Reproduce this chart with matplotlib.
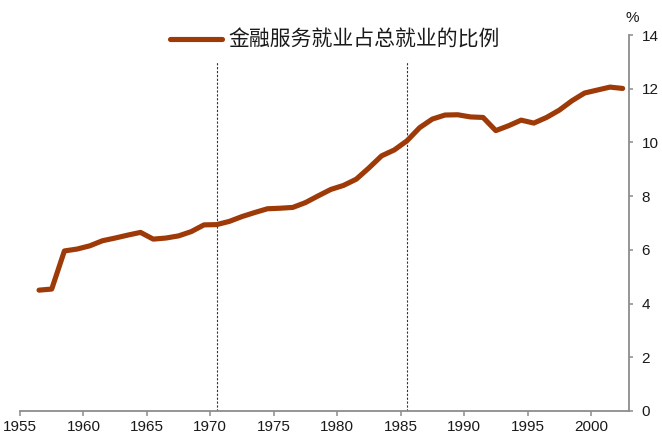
import matplotlib
matplotlib.use("Agg")
import matplotlib.pyplot as plt
import numpy as np

plt.rcParams['font.family'] = ['Liberation Sans', 'Noto Sans CJK SC', 'DejaVu Sans']

# data: share of finance employment in total employment (%)
years = list(range(1956, 2003))
share = [4.50, 4.54, 5.96, 6.03, 6.15, 6.34, 6.44, 6.55, 6.65, 6.40,
         6.44, 6.52, 6.68, 6.93, 6.94, 7.06, 7.24, 7.39, 7.53, 7.55,
         7.58, 7.76, 8.01, 8.25, 8.40, 8.63, 9.05, 9.50, 9.72, 10.06,
         10.55, 10.87, 11.02, 11.03, 10.95, 10.93, 10.44, 10.62, 10.83, 10.72,
         10.93, 11.20, 11.55, 11.84, 11.95, 12.06, 12.01]
marker_years = [1970, 1985]
marker_top = 13.0
xticks = list(range(1955, 2001, 5))
yticks = list(range(0, 15, 2))
series_name = '金融服务就业占总就业的比例'

line_color = '#9E3A07'
axis_color = '#8C8C8C'
text_color = '#1a1a1a'

fig = plt.figure(figsize=(6.62, 4.37), dpi=100)
ax = fig.add_axes([20 / 662, 26 / 437, 609 / 662, 376 / 437])

# category-centred positions (Excel style)
x = np.array(years) + 0.5
ax.plot(x, share, color=line_color, lw=3.7, solid_capstyle='round',
        solid_joinstyle='round', label=series_name)

ax.vlines(np.array(marker_years) + 0.5, 0, marker_top, color='#333333',
          lw=0.8, linestyles=[(0, (2, 1.5))], zorder=1)

ax.set_xlim(1955, 2003)
ax.set_ylim(0, 14)
ax.set_xticks(xticks)
ax.set_yticks(yticks)

for side in ['top', 'left']:
    ax.spines[side].set_visible(False)
for side in ['bottom', 'right']:
    ax.spines[side].set_color(axis_color)
    ax.spines[side].set_linewidth(1.3)

ax.yaxis.tick_right()
ax.tick_params(axis='x', direction='out', length=3.5, width=1.1, color=axis_color,
               labelsize=11, labelcolor=text_color, pad=3)
ax.tick_params(axis='y', direction='out', length=3, width=1.1, color=axis_color,
               labelsize=11, labelcolor=text_color, pad=6)

fig.text(632 / 662, 1 - 18 / 437, '%', ha='center', va='center',
         fontsize=11, color=text_color)

leg = ax.legend(loc='center', bbox_to_anchor=(335 / 662, 1 - 40 / 437),
                bbox_transform=fig.transFigure, frameon=False,
                handlelength=2.5, handletextpad=0.3,
                prop={'family': ['Noto Sans CJK SC'], 'size': 15})
for t in leg.get_texts():
    t.set_color(text_color)

fig.savefig('out.png', dpi=100)
